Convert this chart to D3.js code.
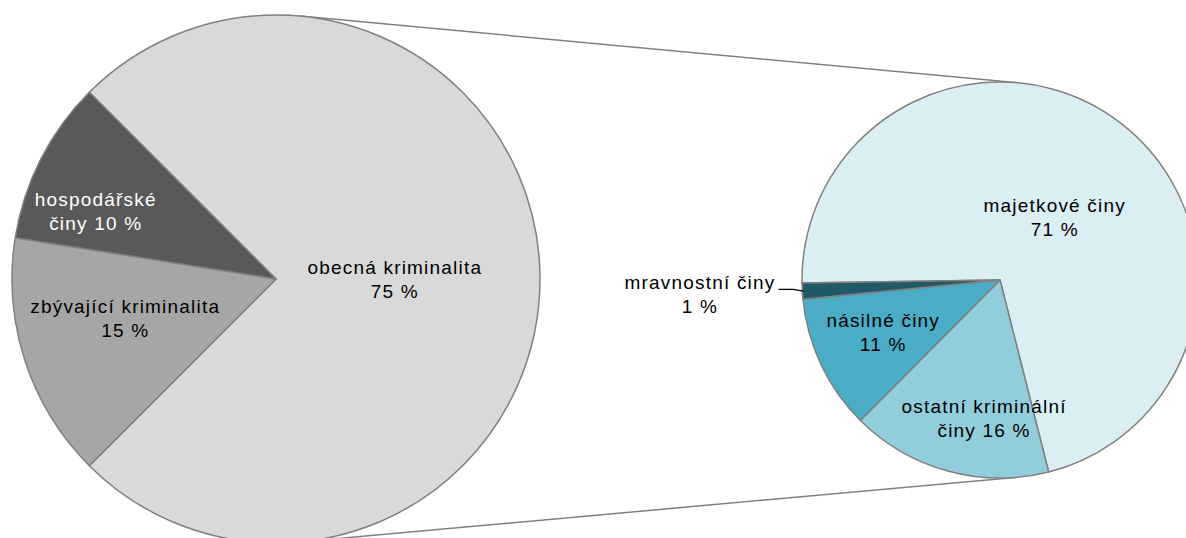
<!DOCTYPE html>
<html lang="cs">
<head>
<meta charset="utf-8">
<title>Struktura kriminality</title>
<script src="https://d3js.org/d3.v7.min.js"></script>
<style>
  body { margin: 0; background: #fff; }
  .lbl { font-family: "Liberation Sans", Arial, sans-serif; font-size: 19px; letter-spacing: 1.2px; }
</style>
</head>
<body>
<div id="chart"></div>
<script>
// hlavni kolac
const primaryLabels = ["obecná kriminalita", "zbývající kriminalita", "hospodářské\nčiny"];
const primaryValues = [75, 15, 10];
const primaryColors = ["#D9D9D9", "#A6A6A6", "#595959"];
const primaryText = ["#000", "#000", "#fff"];

// rozpad obecne kriminality
const secondaryLabels = ["majetkové činy", "ostatní kriminální\nčiny", "násilné činy", "mravnostní činy"];
const secondaryValues = [71.3, 16.4, 11.0, 1.3];
const secondaryColors = ["#DAEEF3", "#92CDDC", "#4BACC6", "#215968"];

// umisteni popisku: [podil polomeru, posun uhlu ve stupnich]
const primaryLabelPos = [[0.45, 0], [0.59, 3.5], [0.73, -6.3]];
const secondaryLabelPos = [[0.42, 3.7], [0.70, -8.7], [0.646, 1.3], [1.517, 0.5]];

const width = 1186, height = 538;
const P = { cx: 276, cy: 279, r: 264 };
const S = { cx: 1000, cy: 280, r: 198 };
const rad = d => d * Math.PI / 180;

const svg = d3.select("#chart").append("svg")
  .attr("width", width)
  .attr("height", height);

// spojovaci cary - vnejsi tecny obou kolacu
(function () {
  const d = S.cx - P.cx;
  const phi = Math.asin((P.r - S.r) / d);
  [-1, 1].forEach(function (s) {
    const nx = Math.sin(phi), ny = s * Math.cos(phi);
    svg.append("line")
      .attr("x1", P.cx + P.r * nx).attr("y1", P.cy + P.r * ny)
      .attr("x2", S.cx + S.r * nx).attr("y2", S.cy + S.r * ny)
      .attr("stroke", "#808080").attr("stroke-width", 1.5);
  });
})();

function polar(c, a, r) {
  return [c.cx + r * Math.sin(a), c.cy - r * Math.cos(a)];
}

function drawPie(c, values, labels, colors, textColors, labelPos, start, id) {
  const pie = d3.pie().sort(null)
    .startAngle(rad(start)).endAngle(rad(start) + 2 * Math.PI);
  const arcs = pie(values);
  const arc = d3.arc().innerRadius(0).outerRadius(c.r);
  const total = d3.sum(values);

  const g = svg.append("g").attr("transform", "translate(" + c.cx + "," + c.cy + ")");
  g.selectAll("path")
    .data(arcs)
    .enter()
    .append("path")
    .attr("d", arc)
    .attr("fill", (d, i) => colors[i])
    .attr("stroke", "#808080")
    .attr("stroke-width", 1.5)
    .attr("stroke-linejoin", "round");

  arcs.forEach(function (d, i) {
    const mid = (d.startAngle + d.endAngle) / 2;
    const p = polar(c, mid + rad(labelPos[i][1]), c.r * labelPos[i][0]);
    const pct = Math.round(d.value / total * 100) + " %";
    const lines = labels[i].split("\n");
    if (lines.length > 1) lines[lines.length - 1] += " " + pct;
    else lines.push(pct);

    const t = svg.append("text")
      .attr("class", "lbl")
      .attr("text-anchor", "middle")
      .attr("fill", textColors[i]);
    lines.forEach(function (l, k) {
      t.append("tspan")
        .attr("x", p[0])
        .attr("y", p[1] - 5 + k * 24)
        .text(l);
    });

    // popisek mimo kolac - odkazova cara
    if (labelPos[i][0] > 1) {
      const first = t.select("tspan").node().getBBox();
      const edge = polar(c, mid, c.r * 0.995);
      const y0 = p[1] - 5;
      svg.append("polyline")
        .attr("points", [[first.x + first.width + 3, y0], [edge[0] - 10, y0], edge].map(q => q.join(",")).join(" "))
        .attr("fill", "none")
        .attr("stroke", "#000")
        .attr("stroke-width", 1.3);
    }
  });
}

drawPie(P, primaryValues, primaryLabels, primaryColors, primaryText, primaryLabelPos, -45, "p");
drawPie(S, secondaryValues, secondaryLabels, secondaryColors, secondaryValues.map(() => "#000"), secondaryLabelPos, -90.9, "s");
</script>
</body>
</html>
